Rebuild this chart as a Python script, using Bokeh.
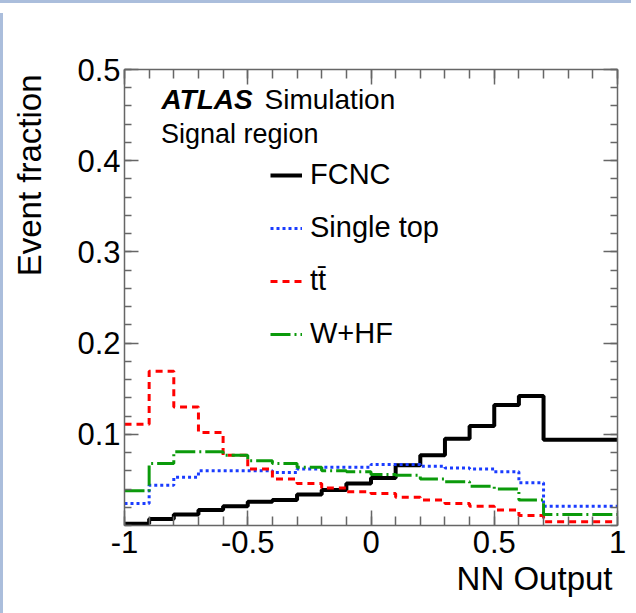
import numpy as np
from bokeh.plotting import figure
from bokeh.models import Range1d, LinearAxis, FixedTicker, Label, Legend, LegendItem, Title, Div
from bokeh.layouts import column, row
from bokeh.embed import file_html
from bokeh.resources import INLINE

# ---- data ----
bin_edges = [-1.0, -0.9, -0.8, -0.7, -0.6, -0.5, -0.4, -0.3, -0.2, -0.1,
             0.0, 0.1, 0.2, 0.3, 0.4, 0.5, 0.6, 0.7, 1.0]
fcnc = [0.002, 0.007, 0.012, 0.017, 0.021, 0.026, 0.028, 0.034, 0.039, 0.046,
        0.052, 0.066, 0.077, 0.095, 0.109, 0.132, 0.142, 0.094]
single_top = [0.024, 0.044, 0.053, 0.060, 0.060, 0.060, 0.058, 0.062, 0.064, 0.064,
              0.067, 0.067, 0.065, 0.063, 0.062, 0.059, 0.047, 0.021]
ttbar = [0.111, 0.169, 0.130, 0.102, 0.077, 0.062, 0.051, 0.046, 0.041, 0.037,
         0.035, 0.031, 0.028, 0.024, 0.021, 0.017, 0.011, 0.004]
w_hf = [0.038, 0.068, 0.081, 0.081, 0.077, 0.071, 0.068, 0.064, 0.060, 0.059,
        0.056, 0.055, 0.051, 0.048, 0.043, 0.040, 0.028, 0.012]
series_names = ["FCNC", "Single top", "t\u0074\u0304", "W+HF"]

x_ticks = [-1.0, -0.5, 0.0, 0.5, 1.0]
x_tick_labels = ["-1", "-0.5", "0", "0.5", "1"]
x_minor = [round(-1 + 0.1 * i, 2) for i in range(21)]
y_ticks = [0.1, 0.2, 0.3, 0.4, 0.5]
y_tick_labels = ["0.1", "0.2", "0.3", "0.4", "0.5"]
y_minor = [round(0.02 * i, 2) for i in range(26)]

FONT = "Liberation Sans"
AX_COL = "#666666"
SLIDE_BLUE = "#abbedc"

p = figure(width=628, height=600, x_range=Range1d(-1, 1), y_range=Range1d(0, 0.5),
           output_backend="svg", toolbar_location=None,
           x_axis_type=None, y_axis_type=None,
           min_border_left=116, min_border_right=19, min_border_top=61, min_border_bottom=83)
p.outline_line_color = None
p.background_fill_color = "white"
p.border_fill_color = "white"


def make_axis(ticks, minor, labels, major_len, minor_len, show_labels):
    ax = LinearAxis(ticker=FixedTicker(ticks=ticks, minor_ticks=minor))
    ax.major_tick_in = major_len
    ax.major_tick_out = 0
    ax.minor_tick_in = minor_len
    ax.minor_tick_out = 0
    ax.axis_line_color = AX_COL
    ax.axis_line_width = 1.5
    ax.major_tick_line_color = AX_COL
    ax.major_tick_line_width = 1.5
    ax.minor_tick_line_color = AX_COL
    ax.minor_tick_line_width = 1.5
    ax.major_label_text_font = FONT
    ax.major_label_text_font_size = "31px"
    ax.major_label_text_color = "black"
    if show_labels:
        ax.major_label_overrides = dict(zip(ticks, labels))
    else:
        ax.major_label_overrides = {t: "" for t in ticks}
    return ax


xb = make_axis(x_ticks, x_minor, x_tick_labels, 15, 9, True)
xb.major_label_standoff = 5
p.add_layout(xb, "below")
xt = make_axis(x_ticks, x_minor, x_tick_labels, 15, 9, False)
p.add_layout(xt, "above")
yl = make_axis(y_ticks, y_minor, y_tick_labels, 14, 7, True)
yl.major_label_standoff = 4
p.add_layout(yl, "left")
yr = make_axis(y_ticks, y_minor, y_tick_labels, 14, 7, False)
p.add_layout(yr, "right")

# invisible spacer between the y tick labels and the y title
spacer = LinearAxis(ticker=FixedTicker(ticks=[0.25], minor_ticks=[]))
spacer.major_label_overrides = {0.25: ""}
spacer.major_tick_in = 0
spacer.major_tick_out = 27
spacer.minor_tick_in = 0
spacer.minor_tick_out = 0
spacer.major_label_standoff = 0
spacer.axis_line_color = None
spacer.major_tick_line_color = None
spacer.minor_tick_line_color = None
p.add_layout(spacer, "left")

# axis titles (ROOT style: aligned to the axis end)
p.add_layout(Title(text="NN Output", align="right", offset=5, standoff=5,
                   text_font=FONT, text_font_size="33px", text_font_style="normal",
                   text_color="black"), "below")
p.add_layout(Title(text="Event fraction", align="right", offset=5, standoff=0,
                   text_font=FONT, text_font_size="33px", text_font_style="normal",
                   text_color="black"), "left")

styles = [
    dict(line_color="black", line_width=4),
    dict(line_color="#1a3cff", line_width=3, line_dash="3 3"),
    dict(line_color="#ff0000", line_width=3, line_dash="7 5"),
    dict(line_color="#0b9a0b", line_width=3, line_dash="20 4 2 4"),
]
renderers = []
for vals, st in zip([fcnc, single_top, ttbar, w_hf], styles):
    r = p.step(x=bin_edges, y=list(vals) + [vals[-1]], mode="after", **st)
    renderers.append(r)

legend = Legend(items=[LegendItem(label=n, renderers=[r]) for n, r in zip(series_names, renderers)],
                location=(146, 175))
legend.label_text_font = FONT
legend.label_text_font_size = "29px"
legend.label_text_color = "black"
legend.glyph_width = 32
legend.glyph_height = 30
legend.label_height = 30
legend.label_standoff = 8
legend.spacing = 20
legend.padding = 0
legend.margin = 0
legend.border_line_color = None
legend.background_fill_alpha = 0
p.add_layout(legend)

# texts inside the frame
p.add_layout(Label(x=-0.850, y=0.467, text="ATLAS", text_font=FONT, text_font_size="28px",
                   text_font_style="bold italic", text_color="black", text_baseline="alphabetic"))
p.add_layout(Label(x=-0.432, y=0.467, text="Simulation", text_font=FONT, text_font_size="28px",
                   text_color="black", text_baseline="alphabetic"))
p.add_layout(Label(x=-0.852, y=0.4295, text="Signal region", text_font=FONT, text_font_size="27px",
                   text_color="black", text_baseline="alphabetic"))

# slide-background strips at the top and left of the picture
top_strip = Div(text="", width=634, height=6, styles={"background-color": SLIDE_BLUE})
left_strip = Div(text="", width=6, height=600, styles={"background-color": SLIDE_BLUE})
lay = column(top_strip, row(left_strip, p, spacing=0), spacing=0,
             styles={"margin": "-8px -8px -8px -8px"})

open("out.html", "w").write(file_html(lay, INLINE))
